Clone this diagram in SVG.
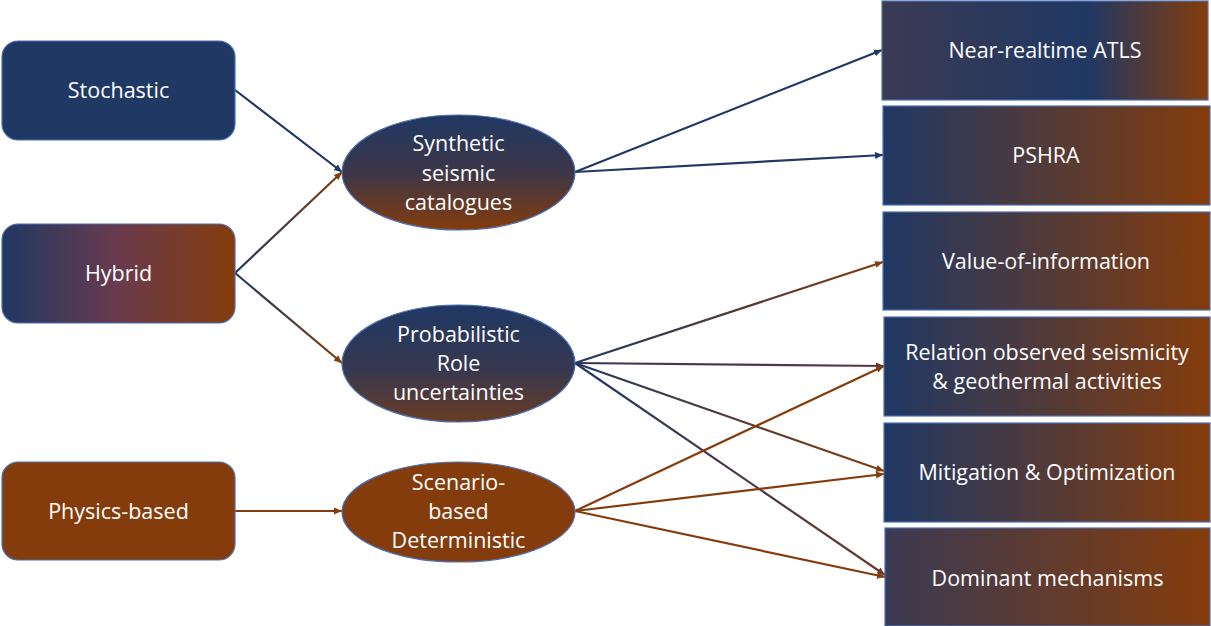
<svg xmlns="http://www.w3.org/2000/svg" width="1211" height="626" viewBox="0 0 1211 626">
<style>
text{font-family:"Open Sans","Liberation Sans",sans-serif;font-size:21.5px;fill:#ffffff;text-anchor:middle}
.nb{stroke:#4a6fb5;stroke-width:1.2}
.c{fill:none;stroke-width:2.2}
</style>
<defs>
<linearGradient id="gH" x1="0" y1="0" x2="1" y2="0"><stop offset="0" stop-color="#203864"/><stop offset="1" stop-color="#843c0c"/></linearGradient>
<linearGradient id="gHy" x1="0" y1="0" x2="1" y2="0"><stop offset="0" stop-color="#203864"/><stop offset="0.5" stop-color="#6a3a4c"/><stop offset="1" stop-color="#843c0c"/></linearGradient>
<linearGradient id="gNR" x1="0" y1="0" x2="1" y2="0"><stop offset="0" stop-color="#3b3a53"/><stop offset="0.63" stop-color="#203864"/><stop offset="1" stop-color="#843c0c"/></linearGradient>
<linearGradient id="gDM" x1="0" y1="0" x2="1" y2="0"><stop offset="0" stop-color="#3b3a53"/><stop offset="1" stop-color="#843c0c"/></linearGradient>
<linearGradient id="gSyn" x1="0" y1="0" x2="0" y2="1"><stop offset="0" stop-color="#203864"/><stop offset="0.5" stop-color="#3d3648"/><stop offset="1" stop-color="#843c0c"/></linearGradient>
<linearGradient id="gPro" x1="0" y1="0" x2="0" y2="1"><stop offset="0" stop-color="#203864"/><stop offset="0.55" stop-color="#363850"/><stop offset="1" stop-color="#6a3c24"/></linearGradient>
<linearGradient id="l2" gradientUnits="userSpaceOnUse" x1="235" y1="273" x2="342" y2="172"><stop offset="0" stop-color="#203864"/><stop offset="1" stop-color="#843c0c"/></linearGradient>
<linearGradient id="l3" gradientUnits="userSpaceOnUse" x1="235" y1="273" x2="342" y2="363"><stop offset="0" stop-color="#203864"/><stop offset="1" stop-color="#843c0c"/></linearGradient>
<linearGradient id="l6" gradientUnits="userSpaceOnUse" x1="575" y1="363" x2="883" y2="262"><stop offset="0" stop-color="#203864"/><stop offset="1" stop-color="#843c0c"/></linearGradient>
<linearGradient id="l7" gradientUnits="userSpaceOnUse" x1="575" y1="363" x2="884" y2="366"><stop offset="0" stop-color="#3e3552"/><stop offset="1" stop-color="#5e3447"/></linearGradient>
<linearGradient id="l8" gradientUnits="userSpaceOnUse" x1="575" y1="363" x2="884" y2="471"><stop offset="0" stop-color="#203864"/><stop offset="1" stop-color="#843c0c"/></linearGradient>
<linearGradient id="l9" gradientUnits="userSpaceOnUse" x1="575" y1="363" x2="885" y2="575"><stop offset="0" stop-color="#203864"/><stop offset="1" stop-color="#6e3a2c"/></linearGradient>
<marker id="mB" markerUnits="userSpaceOnUse" markerWidth="9" markerHeight="8" refX="8" refY="4" orient="auto"><path d="M0,0.5 L8,4 L0,7.5 z" fill="#203864"/></marker>
<marker id="mO" markerUnits="userSpaceOnUse" markerWidth="9" markerHeight="8" refX="8" refY="4" orient="auto"><path d="M0,0.5 L8,4 L0,7.5 z" fill="#843c0c"/></marker>
<marker id="mP" markerUnits="userSpaceOnUse" markerWidth="9" markerHeight="8" refX="8" refY="4" orient="auto"><path d="M0,0.5 L8,4 L0,7.5 z" fill="#5e3447"/></marker>
<marker id="mR" markerUnits="userSpaceOnUse" markerWidth="9" markerHeight="8" refX="8" refY="4" orient="auto"><path d="M0,0.5 L8,4 L0,7.5 z" fill="#6e3a2c"/></marker>
</defs>
<rect width="1211" height="626" fill="#ffffff"/>
<g id="connectors">
<line class="c" x1="235" y1="90" x2="342" y2="172" stroke="#203864" marker-end="url(#mB)"/>
<line class="c" x1="235" y1="273" x2="342" y2="172" stroke="url(#l2)" marker-end="url(#mO)"/>
<line class="c" x1="235" y1="273" x2="342" y2="363" stroke="url(#l3)" marker-end="url(#mO)"/>
<line class="c" x1="235" y1="511" x2="342" y2="511" stroke="#843c0c" marker-end="url(#mO)"/>
<line class="c" x1="575" y1="172" x2="882" y2="50" stroke="#203864" marker-end="url(#mB)"/>
<line class="c" x1="575" y1="172" x2="883" y2="155" stroke="#203864" marker-end="url(#mB)"/>
<line class="c" x1="575" y1="363" x2="883" y2="262" stroke="url(#l6)" marker-end="url(#mO)"/>
<line class="c" x1="575" y1="363" x2="884" y2="366" stroke="url(#l7)" marker-end="url(#mP)"/>
<line class="c" x1="575" y1="363" x2="884" y2="471" stroke="url(#l8)" marker-end="url(#mO)"/>
<line class="c" x1="575" y1="363" x2="885" y2="575" stroke="url(#l9)" marker-end="url(#mR)"/>
<line class="c" x1="575" y1="511" x2="884" y2="366" stroke="#843c0c" marker-end="url(#mO)"/>
<line class="c" x1="575" y1="511" x2="884" y2="474" stroke="#843c0c" marker-end="url(#mO)"/>
<line class="c" x1="575" y1="511" x2="885" y2="577" stroke="#843c0c" marker-end="url(#mO)"/>
</g>
<g id="stochastic"><rect class="nb" x="2" y="41" width="233" height="99" rx="16" fill="#203864"/><text x="118.5" y="98">Stochastic</text></g>
<g id="hybrid"><rect class="nb" x="2" y="224" width="233" height="99" rx="16" fill="url(#gHy)"/><text x="118.5" y="281">Hybrid</text></g>
<g id="physics"><rect class="nb" x="2" y="462" width="233" height="98" rx="16" fill="#843c0c" stroke="#a0603a" stroke-width="1"/><text x="118.5" y="519">Physics-based</text></g>
<g id="synthetic"><ellipse class="nb" cx="458.5" cy="172.5" rx="116.5" ry="57.5" fill="url(#gSyn)"/><text x="458.5" y="151">Synthetic</text><text x="458.5" y="181">seismic</text><text x="458.5" y="210">catalogues</text></g>
<g id="probabilistic"><ellipse class="nb" cx="458.5" cy="363.5" rx="116.5" ry="58.5" fill="url(#gPro)"/><text x="458.5" y="342">Probabilistic</text><text x="458.5" y="371">Role</text><text x="458.5" y="400">uncertainties</text></g>
<g id="scenario"><ellipse class="nb" cx="458.5" cy="512" rx="116.5" ry="50" fill="#843c0c"/><text x="458.5" y="490">Scenario-</text><text x="458.5" y="519">based</text><text x="458.5" y="548">Deterministic</text></g>
<g id="nearrealtime"><rect class="nb" x="882" y="1" width="326" height="99" fill="url(#gNR)"/><text x="1045" y="58">Near-realtime ATLS</text></g>
<g id="pshra"><rect class="nb" x="883" y="106" width="327" height="99" fill="url(#gH)"/><text x="1046" y="163">PSHRA</text></g>
<g id="valueofinfo"><rect class="nb" x="883" y="212" width="327" height="98" fill="url(#gH)"/><text x="1046" y="269">Value-of-information</text></g>
<g id="relation"><rect class="nb" x="884" y="317" width="326" height="99" fill="url(#gH)"/><text x="1047" y="360">Relation observed seismicity</text><text x="1047" y="389">&amp; geothermal activities</text></g>
<g id="mitigation"><rect class="nb" x="884" y="423" width="326" height="99" fill="url(#gH)"/><text x="1047" y="480">Mitigation &amp; Optimization</text></g>
<g id="dominant"><rect class="nb" x="885" y="528" width="325" height="98" fill="url(#gDM)"/><text x="1047.5" y="586">Dominant mechanisms</text></g>
</svg>
